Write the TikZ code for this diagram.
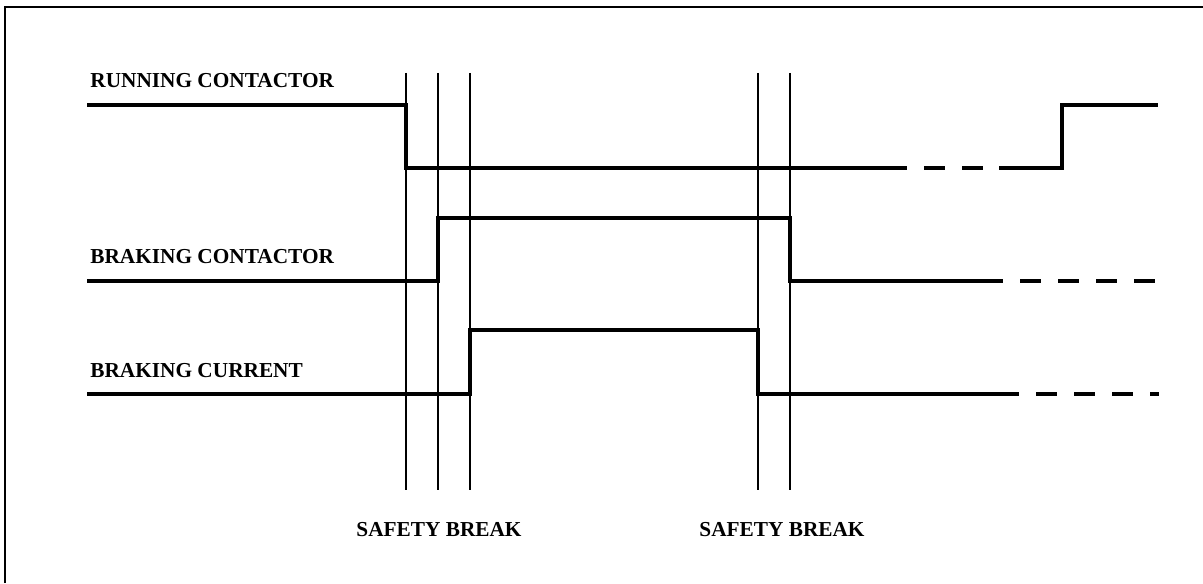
\documentclass[tikz,border=0pt]{standalone}
\usepackage{fontspec}
\setmainfont{Liberation Serif}
\usetikzlibrary{positioning}

\begin{document}
\begin{tikzpicture}[x=0.5pt, y=-0.5pt,
  font=\fontsize{10.65}{12}\selectfont\bfseries,
  signal/.style={line width=2.35pt},
  later/.style={signal, dash pattern=on 10.5pt off 8.5pt},
  guide/.style={line width=0.6pt},
  lbl/.style={anchor=base west, inner sep=0pt}]
\useasboundingbox (0,0) rectangle (1203,583);
% frame
\draw[line width=1pt] (5,583) -- (5,7) -- (1203,7);

% signal names
\node[lbl] (run)  at (90,88)  {RUNNING CONTACTOR};
\node[lbl] (brk)  at (90,263) {BRAKING CONTACTOR};
\node[lbl] (cur)  at (90,377) {BRAKING CURRENT};

% time marks
\foreach \t in {406,438,470,758,790}
  \draw[guide] (\t,73) -- (\t,490);
\node[anchor=base, inner sep=0pt] (sb1) at (439,536) {SAFETY BREAK};
\node[anchor=base, inner sep=0pt] (sb2) at (782,536) {SAFETY BREAK};

% running contactor
\draw[signal] (87,105) -- (406,105) -- (406,168) -- (886,168);
\draw[later]  (886,168) -- (999,168);
\draw[signal] (999,168) -- (1062,168) -- (1062,105) -- (1158,105);

% braking contactor
\draw[signal] (87,281) -- (438,281) -- (438,218) -- (790,218) -- (790,281) -- (982,281);
\draw[later]  (982,281) -- (1155,281);

% braking current
\draw[signal] (87,394) -- (470,394) -- (470,330) -- (758,330) -- (758,394) -- (998,394);
\draw[later]  (998,394) -- (1159,394);
\end{tikzpicture}
\end{document}
